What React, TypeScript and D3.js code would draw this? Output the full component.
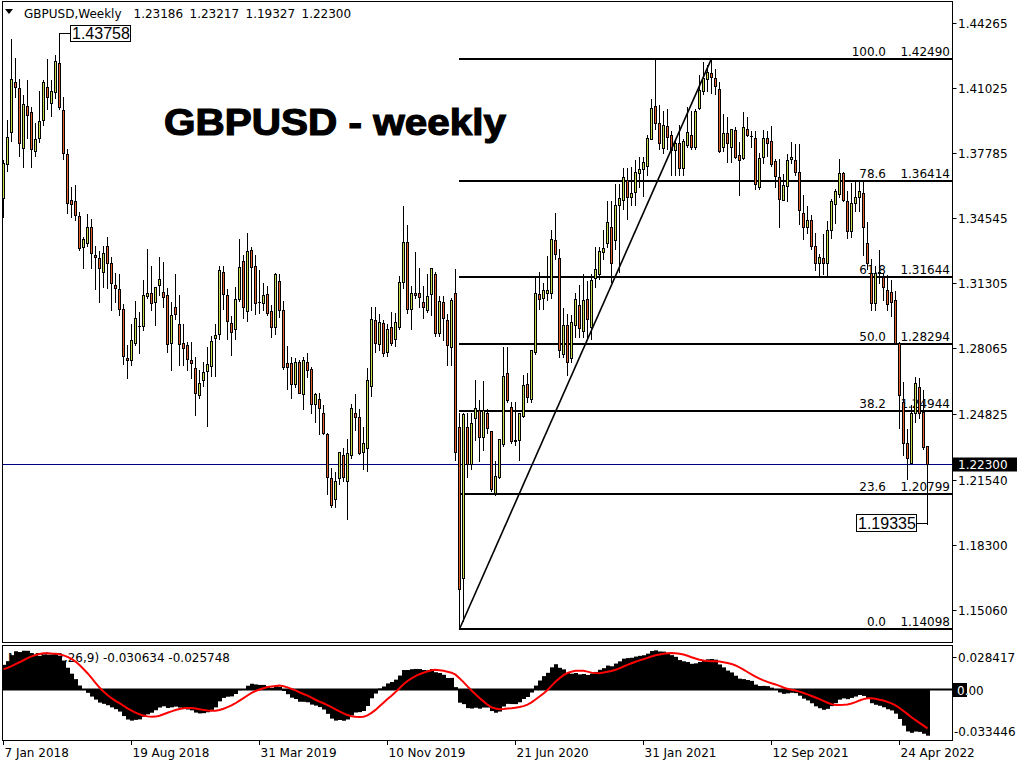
import React from "react";
import * as d3 from "d3";

// ---------- DATA (weekly GBPUSD, 7 Jan 2018 .. 12 Jun 2022) ----------
const opens = [
  1.3555,1.3723,1.3886,1.4134,1.4103,1.3803,1.4013,1.3982,1.3789,1.3852,
  1.3944,1.4108,1.4028,1.4085,1.4229,1.3993,1.3774,1.3545,1.3540,1.3466,
  1.3313,1.3330,1.3410,1.3272,1.3255,1.3189,1.3316,1.3230,1.3122,1.3101,
  1.3001,1.2757,1.2749,1.2835,1.2920,1.2920,1.3070,1.3081,1.3036,1.3121,
  1.3086,1.3071,1.2832,1.3011,1.2927,1.2835,1.2822,1.2749,1.2708,1.2575,
  1.2650,1.2694,1.2719,1.2856,1.2877,1.3185,1.3071,1.2932,1.2902,1.3054,
  1.3242,1.2993,1.3297,1.3217,1.3036,1.3031,1.3076,1.2993,1.2915,1.3142,
  1.2998,1.2733,1.2736,1.2628,1.2737,1.2578,1.2741,1.2704,1.2528,1.2553,
  1.2484,1.2381,1.2160,1.2056,1.2161,1.2276,1.2149,1.2276,1.2484,1.2464,
  1.2293,1.2310,1.2622,1.2948,1.2827,1.2932,1.2791,1.2915,1.2852,1.2912,
  1.3136,1.3335,1.3001,1.3084,1.3081,1.3036,1.2997,1.3076,1.3176,1.2882,
  1.3036,1.2948,1.2815,1.3081,1.2417,1.1666,1.2417,1.2230,1.2459,1.2500,
  1.2364,1.2487,1.2397,1.2085,1.2168,1.2329,1.2683,1.2514,1.2351,1.2351,
  1.2470,1.2629,1.2553,1.2791,1.3078,1.3060,1.3081,1.3081,1.3346,1.3255,
  1.2779,1.2923,1.2757,1.2923,1.3023,1.2895,1.3053,1.2915,1.3156,1.3177,
  1.3288,1.3330,1.3409,1.3346,1.3519,1.3546,1.3645,1.3559,1.3584,1.3678,
  1.3700,1.3715,1.3848,1.4013,1.3927,1.3803,1.3914,1.3867,1.3795,1.3831,
  1.3703,1.3819,1.3869,1.3809,1.4002,1.4090,1.4146,1.4176,1.4151,1.4096,
  1.3808,1.3877,1.3811,1.3894,1.3769,1.3753,1.3897,1.3866,1.3853,1.3612,
  1.3761,1.3856,1.3839,1.3741,1.3662,1.3545,1.3617,1.3748,1.3745,1.3683,
  1.3479,1.3410,1.3446,1.3317,1.3234,1.3255,1.3234,1.3396,1.3525,1.3575,
  1.3678,1.3542,1.3393,1.3532,1.3559,1.3578,1.3330,1.3180,1.3031,1.3181,
  1.3161,1.3095,1.3086,1.3048,1.2832,1.2542,1.2338,1.2235,1.2484,1.2616,
  1.2488,1.23186,
];
const highs = [
  1.3745,1.3943,1.4346,1.4250,1.4147,1.4070,1.4145,1.4010,1.3928,1.4089,
  1.4145,1.4245,1.4145,1.4266,1.43758,1.4060,1.3800,1.3608,1.3620,1.3485,
  1.3363,1.3475,1.3450,1.3316,1.3292,1.3316,1.3362,1.3260,1.3180,1.3175,
  1.3030,1.2824,1.2930,1.3043,1.2990,1.3146,1.3300,1.3215,1.3113,1.3260,
  1.3235,1.3105,1.3040,1.3176,1.3074,1.2928,1.2840,1.2840,1.2763,1.2700,
  1.2741,1.2815,1.2868,1.2930,1.3217,1.3215,1.3100,1.2967,1.3110,1.3350,
  1.3270,1.3381,1.3313,1.3272,1.3197,1.3130,1.3118,1.3023,1.3180,1.3176,
  1.3045,1.2818,1.2766,1.2760,1.2750,1.2766,1.2783,1.2715,1.2583,1.2583,
  1.2523,1.2384,1.2210,1.2190,1.2293,1.2310,1.2355,1.2530,1.2582,1.2505,
  1.2415,1.2708,1.3012,1.3013,1.2976,1.2950,1.2930,1.2986,1.2985,1.3165,
  1.3516,1.3422,1.3115,1.3285,1.3208,1.3117,1.3177,1.3209,1.3186,1.3070,
  1.3070,1.2980,1.3060,1.3200,1.2485,1.2485,1.2485,1.2487,1.2647,1.2550,
  1.2645,1.2505,1.2397,1.2247,1.2356,1.2813,1.2812,1.2542,1.2542,1.2485,
  1.2675,1.2683,1.2799,1.3165,1.3185,1.3130,1.3268,1.3395,1.3482,1.3300,
  1.3008,1.2976,1.2973,1.3083,1.3122,1.3177,1.3140,1.3177,1.3313,1.3313,
  1.3398,1.3540,1.3540,1.3625,1.3625,1.3704,1.3704,1.3710,1.3745,1.3760,
  1.3760,1.3867,1.4050,1.4241,1.4017,1.3990,1.4000,1.3887,1.3850,1.3920,
  1.3850,1.4010,1.3990,1.4000,1.4166,1.4234,1.4219,1.4249,1.4200,1.4134,
  1.3976,1.3960,1.3898,1.3910,1.3834,1.3983,1.3959,1.3890,1.3890,1.3780,
  1.3892,1.3890,1.3912,1.3750,1.3748,1.3675,1.3773,1.3834,1.3825,1.3825,
  1.3570,1.3515,1.3470,1.3380,1.3275,1.3375,1.3440,1.3550,1.3598,1.3748,
  1.3686,1.3590,1.3628,1.3643,1.3643,1.3641,1.3437,1.3250,1.3215,1.3298,
  1.3180,1.3170,1.3147,1.3090,1.2840,1.2640,1.2406,1.2525,1.2666,1.2660,
  1.2600,1.23217,
];
const lows = [
  1.3460,1.3690,1.3840,1.4060,1.3765,1.3712,1.3855,1.3712,1.3762,1.3832,
  1.3920,1.4000,1.3965,1.4055,1.4000,1.3748,1.3480,1.3459,1.3445,1.3295,
  1.3205,1.3315,1.3205,1.3100,1.3040,1.3110,1.3105,1.3000,1.3040,1.2975,
  1.2730,1.2661,1.2725,1.2822,1.2786,1.2896,1.3056,1.3000,1.2923,1.3073,
  1.3014,1.2790,1.2697,1.2953,1.2723,1.2723,1.2700,1.2660,1.2477,1.2560,
  1.2620,1.2420,1.2667,1.2670,1.2853,1.3005,1.2855,1.2772,1.2855,1.3045,
  1.2960,1.2945,1.3000,1.2978,1.2985,1.2998,1.2973,1.2865,1.2880,1.2965,
  1.2705,1.2605,1.2560,1.2617,1.2583,1.2506,1.2666,1.2483,1.2439,1.2382,
  1.2380,1.2080,1.2015,1.2015,1.2130,1.2145,1.1959,1.2260,1.2400,1.2283,
  1.2205,1.2195,1.2572,1.2790,1.2800,1.2769,1.2770,1.2823,1.2820,1.2902,
  1.3105,1.2985,1.2903,1.3057,1.3014,1.2957,1.2990,1.2973,1.2870,1.2870,
  1.2848,1.2725,1.2725,1.2250,1.14098,1.1450,1.2165,1.2205,1.2350,1.2248,
  1.2300,1.2385,1.2095,1.2075,1.2160,1.2320,1.2542,1.2335,1.2328,1.2251,
  1.2465,1.2542,1.2542,1.2780,1.3005,1.3005,1.3050,1.3060,1.3250,1.2762,
  1.2764,1.2676,1.2737,1.2865,1.2865,1.2865,1.2855,1.2855,1.3110,1.3150,
  1.3250,1.3312,1.3135,1.3300,1.3188,1.3500,1.3450,1.3520,1.3520,1.3610,
  1.3565,1.3668,1.3848,1.3900,1.3800,1.3780,1.3800,1.3671,1.3670,1.3670,
  1.3670,1.3810,1.3800,1.3800,1.4000,1.4075,1.4090,1.4080,1.4075,1.3785,
  1.3791,1.3737,1.3733,1.3755,1.3570,1.3750,1.3865,1.3810,1.3602,1.3600,
  1.3728,1.3765,1.3717,1.3610,1.3412,1.3545,1.3540,1.3730,1.3670,1.3424,
  1.3353,1.3380,1.3300,1.3195,1.3160,1.3175,1.3165,1.3355,1.3430,1.3560,
  1.3540,1.3358,1.3360,1.3490,1.3490,1.3272,1.3200,1.3000,1.2998,1.3130,
  1.3050,1.3000,1.2970,1.2830,1.2411,1.2275,1.2155,1.2235,1.2440,1.2460,
  1.2305,1.19327,
];
const closes = [
  1.3730,1.3858,1.4146,1.4109,1.3828,1.4023,1.3969,1.3798,1.3847,1.3940,
  1.4134,1.4058,1.4090,1.4237,1.4007,1.3778,1.3529,1.3524,1.3471,1.3305,
  1.3350,1.3410,1.3280,1.3264,1.3205,1.3280,1.3233,1.3131,1.3106,1.3001,
  1.2769,1.2748,1.2849,1.2956,1.2916,1.3071,1.3081,1.3031,1.3111,1.3151,
  1.3064,1.2827,1.2971,1.2976,1.2827,1.2807,1.2752,1.2736,1.2583,1.2636,
  1.2691,1.2727,1.2842,1.2872,1.3195,1.3076,1.2943,1.2887,1.3055,1.3210,
  1.3015,1.3292,1.3211,1.3031,1.3040,1.3073,1.2985,1.2915,1.3176,1.2998,
  1.2716,1.2713,1.2628,1.2737,1.2586,1.2747,1.2699,1.2528,1.2578,1.2508,
  1.2384,1.2168,1.2027,1.2147,1.2293,1.2165,1.2288,1.2509,1.2467,1.2288,
  1.2334,1.2650,1.2952,1.2832,1.2940,1.2782,1.2904,1.2832,1.2937,1.3136,
  1.3335,1.3001,1.3084,1.3073,1.3064,1.3011,1.3069,1.3209,1.2882,1.3044,
  1.2957,1.2824,1.3048,1.2293,1.1608,1.2480,1.2230,1.2437,1.2509,1.2367,
  1.2500,1.2409,1.2105,1.2172,1.2354,1.2670,1.2550,1.2348,1.2345,1.2483,
  1.2624,1.2566,1.2799,1.3081,1.3053,1.3095,1.3097,1.3350,1.3275,1.2799,
  1.2923,1.2741,1.2937,1.3053,1.2907,1.3048,1.2953,1.3147,1.3200,1.3292,
  1.3305,1.3434,1.3230,1.3519,1.3553,1.3658,1.3559,1.3579,1.3683,1.3700,
  1.3733,1.3856,1.4002,1.3927,1.3828,1.3919,1.3861,1.3795,1.3831,1.3703,
  1.3839,1.3882,1.3811,1.3988,1.4093,1.4151,1.4184,1.4159,1.4113,1.3791,
  1.3877,1.3827,1.3897,1.3761,1.3745,1.3907,1.3869,1.3866,1.3625,1.3753,
  1.3856,1.3828,1.3725,1.3667,1.3550,1.3620,1.3745,1.3761,1.3686,1.3496,
  1.3413,1.3446,1.3317,1.3234,1.3260,1.3234,1.3396,1.3542,1.3592,1.3678,
  1.3545,1.3393,1.3532,1.3559,1.3592,1.3409,1.3234,1.3031,1.3181,1.3186,
  1.3111,1.3028,1.3037,1.2832,1.2575,1.2338,1.2260,1.2484,1.2633,1.2484,
  1.2314,1.22300,
];
// weekly closes of 2017 (history before the visible window, used by the MACD)
const closes2017 = [
  1.2278,1.2171,1.2370,1.2553,1.2487,1.2480,1.2410,1.2478,1.2293,1.2173,
  1.2402,1.2474,1.2550,1.2385,1.2528,1.2826,1.2946,1.2951,1.2881,1.3035,
  1.2798,1.2885,1.2744,1.2782,1.2722,1.3025,1.2883,1.3080,1.2997,1.3133,
  1.3041,1.3010,1.2875,1.2877,1.2994,1.3205,1.3613,1.3501,1.3396,1.3061,
  1.3286,1.3196,1.3130,1.3054,1.3192,1.3192,1.3327,1.3477,1.3470,1.3320,
  1.3365,1.3410,1.3567,
];

const dateTickIndex = [0, 32, 64, 96, 128, 160, 192, 224];
const dateTickLabels = ["7 Jan 2018", "19 Aug 2018", "31 Mar 2019", "10 Nov 2019", "21 Jun 2020", "31 Jan 2021", "12 Sep 2021", "24 Apr 2022"];
const priceTicks = [1.44265, 1.41025, 1.37785, 1.34545, 1.31305, 1.28065, 1.24825, 1.2154, 1.183, 1.1506];
const priceTickLabels = ["1.44265", "1.41025", "1.37785", "1.34545", "1.31305", "1.28065", "1.24825", "1.21540", "1.18300", "1.15060"];
const fibLevels = ["0.0", "23.6", "38.2", "50.0", "61.8", "78.6", "100.0"];
const fibValues = [1.14098, 1.20799, 1.24944, 1.28294, 1.31644, 1.36414, 1.4249];
const fibLabels = ["1.14098", "1.20799", "1.24944", "1.28294", "1.31644", "1.36414", "1.42490"];
const fibStartIndex = 114;
const fibEndIndex = 177;
const lastPrice = 1.223;
const headerValues = ["1.23186", "1.23217", "1.19327", "1.22300"];
const macdRange = [-0.033446, 0.028417];
const macdHeader = "MACD(12,26,9) -0.030634 -0.025748";

const FONT = "'DejaVu Sans', Tahoma, sans-serif";
const BULL = "#C8DB4E";
const BEAR = "#E2602E";

function ema(arr: number[], n: number) {
  const k = 2 / (n + 1);
  const out: number[] = [];
  arr.forEach((v, i) => out.push(i === 0 ? v : v * k + out[i - 1] * (1 - k)));
  return out;
}

export default function App() {
  const n = closes.length;
  const x = d3.scaleLinear().domain([0, n - 1]).range([3.5, 3.5 + 4 * (n - 1)]);
  const y = d3.scaleLinear().domain([1.1506, 1.44265]).range([609.7, 23]);
  const my = d3.scaleLinear().domain(macdRange).range([740, 646]);

  const all = [...closes2017, ...closes];
  const e12 = ema(all, 12);
  const e26 = ema(all, 26);
  const mainAll = all.map((_, i) => e12[i] - e26[i]);
  const sigAll = mainAll.map((_, i) => d3.mean(mainAll.slice(Math.max(0, i - 8), i + 1)) as number);
  const off = closes2017.length;
  const macdMain = mainAll.slice(off);
  const macdSig = sigAll.slice(off);

  const sigLine = d3.line<number>().x((_, i) => x(i)).y((v) => my(v));
  const R = 952.5;
  const zeroY = Math.round(my(0)) + 0.5;
  const lastY = Math.round(y(lastPrice)) + 0.5;

  return (
    <svg width={1024} height={768} style={{ position: "absolute", left: 0, top: 0, background: "#fff" }}>
      <rect x={0} y={0} width={1024} height={768} fill="#fff" />
      <defs>
        <clipPath id="mainClip"><rect x={2.5} y={1.5} width={R - 2.5} height={641} /></clipPath>
        <clipPath id="zeroClip"><rect x={953} y={683} width={14} height={14} /></clipPath>
      </defs>

      {/* header */}
      <polygon points="5,9 13,9 9,14" fill="#000" />
      <text x={24} y={17.5} fontFamily={FONT} fontSize={12} fill="#000">GBPUSD,Weekly</text>
      {headerValues.map((t, k) => (
        <text key={t + k} x={133.5 + 56 * k} y={17.5} fontFamily={FONT} fontSize={12} fill="#000">{t}</text>
      ))}

      <g clipPath="url(#mainClip)">
        {/* current price line */}
        <line x1={2.5} x2={R} y1={lastY} y2={lastY} stroke="#000080" strokeWidth={1} />
        {/* fibonacci */}
        {fibValues.map((v, k) => {
          const yy = Math.round(y(v));
          return (
            <g key={"fib" + k}>
              <line x1={x(fibStartIndex) - 0.5} x2={R} y1={yy} y2={yy} stroke="#000" strokeWidth={2} />
              <text x={886} y={yy - 3} textAnchor="end" fontFamily={FONT} fontSize={12} fill="#000">{fibLevels[k]}</text>
              <text x={950} y={yy - 3} textAnchor="end" fontFamily={FONT} fontSize={12} fill="#000">{fibLabels[k]}</text>
            </g>
          );
        })}

        {/* candles */}
        {closes.map((c, i) => {
          const o = opens[i];
          const cx = x(i);
          const top = Math.round(y(Math.max(o, c))) + 0.5;
          const bot = Math.round(y(Math.min(o, c))) + 0.5;
          const hY = Math.round(y(highs[i]));
          const lY = Math.round(y(lows[i])) + 1;
          return (
            <g key={"c" + i}>
              <line x1={cx} x2={cx} y1={hY} y2={lY} stroke="#000" strokeWidth={1} />
              {bot - top >= 1 ? (
                <rect x={cx - 1} y={top} width={2} height={bot - top} fill={c >= o ? BULL : BEAR} stroke="#000" strokeWidth={1} />
              ) : (
                <line x1={cx - 1.5} x2={cx + 1.5} y1={top} y2={top} stroke="#000" strokeWidth={1} />
              )}
            </g>
          );
        })}

        {/* trend line low -> high */}
        <line x1={x(fibStartIndex)} y1={y(fibValues[0])} x2={x(fibEndIndex)} y2={y(fibValues[6])} stroke="#000" strokeWidth={1.6} />
      </g>

      {/* title */}
      <text x={164} y={134.5} fontFamily="'Liberation Sans', Arial, sans-serif" fontWeight="bold" fontSize={37} textLength={342} lengthAdjust="spacingAndGlyphs" fill="#000" stroke="#000" strokeWidth={1.2}>GBPUSD - weekly</text>

      {/* high / low labels */}
      <line x1={x(14)} x2={70.5} y1={33.5} y2={33.5} stroke="#000" />
      <rect x={70.5} y={25.5} width={60} height={16} fill="#fff" stroke="#000" />
      <text x={72} y={39} fontFamily="'Liberation Sans', Arial, sans-serif" fontSize={16} fill="#000">1.43758</text>
      <line x1={x(n - 1)} x2={x(n - 1)} y1={Math.round(y(lows[n - 1]))} y2={523.5} stroke="#000" />
      <line x1={916.5} x2={x(n - 1)} y1={523.5} y2={523.5} stroke="#000" />
      <rect x={856.5} y={514.5} width={60} height={17} fill="#fff" stroke="#000" />
      <text x={858} y={529} fontFamily="'Liberation Sans', Arial, sans-serif" fontSize={16} fill="#000">1.19335</text>

      {/* main frame and price axis */}
      <rect x={2.5} y={1.5} width={R - 2.5} height={641} fill="none" stroke="#000" />
      {priceTicks.map((p, k) => {
        const yy = Math.round(y(p)) + 0.5;
        return (
          <g key={"pt" + k}>
            <line x1={R} x2={R + 4} y1={yy} y2={yy} stroke="#000" />
            <text x={958} y={yy + 4.5} fontFamily={FONT} fontSize={12} fill="#000">{priceTickLabels[k]}</text>
          </g>
        );
      })}
      <rect x={953} y={lastY - 7} width={64} height={14} fill="#000" />
      <text x={958} y={lastY + 4.5} fontFamily={FONT} fontSize={12} fill="#fff">{headerValues[3]}</text>

      {/* MACD panel */}
      <text x={8} y={662} fontFamily={FONT} fontSize={12} fill="#000">{macdHeader}</text>
      {macdMain.map((v, i) => {
        const y0 = my(0);
        const y1 = my(v);
        return <rect key={"h" + i} x={x(i) - 1.5} y={Math.min(y0, y1)} width={4} height={Math.abs(y1 - y0)} fill="#000" />;
      })}
      <line x1={2.5} x2={R} y1={zeroY} y2={zeroY} stroke="#000" strokeWidth={2} />
      <path d={sigLine(macdSig) || ""} fill="none" stroke="#FF0000" strokeWidth={2} />
      <rect x={2.5} y={645.5} width={R - 2.5} height={95} fill="none" stroke="#000" />
      <line x1={R} x2={R + 4} y1={657.5} y2={657.5} stroke="#000" />
      <text x={958} y={661.5} fontFamily={FONT} fontSize={12} fill="#000">0.028417</text>
      <text x={957} y={694.5} fontFamily={FONT} fontSize={12} fill="#000">0.00</text>
      <rect x={953} y={683} width={14} height={14} fill="#000" />
      <text x={957} y={694.5} fontFamily={FONT} fontSize={12} fill="#fff" clipPath="url(#zeroClip)">0.00</text>
      <text x={954} y={735.5} fontFamily={FONT} fontSize={12} fill="#000">-0.033446</text>

      {/* date axis */}
      {dateTickIndex.map((idx, k) => (
        <g key={"dt" + k}>
          <line x1={x(idx)} x2={x(idx)} y1={741} y2={745} stroke="#000" />
          <text x={x(idx) + 1} y={757} fontFamily={FONT} fontSize={12} fill="#000">{dateTickLabels[k]}</text>
        </g>
      ))}
    </svg>
  );
}
